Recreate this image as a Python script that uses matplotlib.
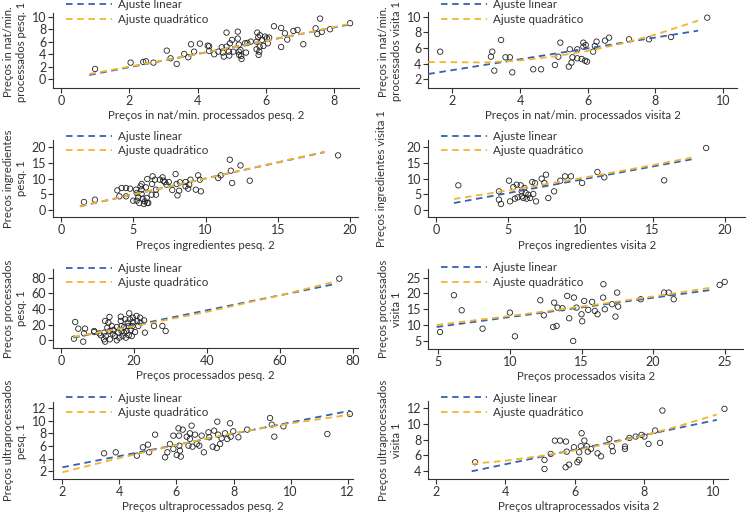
import matplotlib
matplotlib.use("Agg")
import matplotlib.pyplot as plt
import numpy as np

plt.rcParams['font.family'] = ['Lato', 'DejaVu Sans']

# --- data (x = second visit/survey, y = first) ---
p1_x = [1.0, 2.04, 2.41, 2.49, 2.71, 3.1, 3.21, 3.39, 3.61, 3.73, 3.81, 3.9, 4.07, 4.3, 4.34, 4.34,
        4.49, 4.61, 4.71, 4.74, 4.77, 4.85, 4.85, 4.92, 4.93, 4.95, 5.01, 5.05, 5.18, 5.18, 5.21,
        5.21, 5.22, 5.26, 5.28, 5.29, 5.39, 5.42, 5.46, 5.56, 5.73, 5.73, 5.75, 5.78, 5.79, 5.81,
        5.82, 5.83, 5.89, 5.93, 5.98, 6.03, 6.06, 6.1, 6.24, 6.45, 6.45, 6.56, 6.63, 6.81, 6.93,
        7.1, 7.46, 7.51, 7.59, 7.64, 7.88, 8.47]
p1_y = [1.65, 2.66, 2.77, 2.87, 2.66, 4.57, 3.35, 2.45, 4.04, 3.51, 5.59, 4.41, 5.69, 5.37, 5.27, 4.52,
        3.99, 4.41, 5.11, 4.26, 3.62, 7.45, 5.21, 4.41, 3.78, 5.74, 6.28, 4.41, 6.49, 7.6, 5.53,
        4.41, 3.88, 4.68, 3.72, 3.24, 5.74, 4.26, 5.8, 6.01, 4.79, 6.01, 7.45, 6.7, 3.88, 4.41,
        5.21, 7.02, 6.28, 5.32, 6.81, 6.54, 5.74, 6.65, 8.46, 8.19, 5.16, 7.34, 6.33, 7.71, 7.87,
        5.59, 8.14, 7.23, 9.68, 7.55, 7.98, 8.94]

p2_x = [1.64, 3.44, 3.18, 3.14, 3.24, 3.77, 3.57, 3.7, 4.39, 4.62, 5.03, 5.13, 5.19, 5.44, 5.47,
        5.52, 5.55, 5.69, 5.69, 5.82, 5.87, 5.87, 5.92, 5.98, 5.94, 6.16, 6.21, 6.26, 6.51, 6.63,
        7.22, 7.81, 8.46, 9.53]
p2_y = [5.53, 7.02, 5.53, 4.89, 3.11, 2.89, 4.81, 4.81, 3.28, 3.28, 3.83, 4.89, 6.68, 3.62, 5.83,
        4.13, 4.81, 5.83, 4.68, 4.6, 6.68, 6.17, 4.38, 4.26, 6.38, 5.53, 6.26, 6.81, 6.94, 7.32,
        7.11, 7.11, 7.4, 9.87]

p3_x = [1.59, 2.35, 3.9, 4.04, 4.2, 4.5, 4.5, 4.78, 5.0, 5.19, 5.24, 5.24, 5.35, 5.42, 5.51, 5.58,
        5.58, 5.58, 5.65, 5.74, 5.81, 5.88, 5.93, 5.97, 5.97, 6.04, 6.27, 6.3, 6.34, 6.5, 6.57,
        6.57, 6.84, 7.03, 7.08, 7.19, 7.3, 7.46, 7.7, 7.93, 8.0, 8.06, 8.18, 8.23, 8.62, 8.62,
        8.8, 8.87, 8.96, 9.33, 9.49, 9.61, 9.68, 10.88, 11.06, 11.68, 11.75, 11.84, 12.42, 13.06,
        19.17]
p3_y = [2.46, 3.21, 6.2, 4.28, 6.95, 6.95, 4.28, 6.74, 2.89, 6.42, 5.35, 2.89, 3.96, 2.14, 7.49, 8.24,
        6.42, 5.03, 3.53, 1.82, 2.67, 7.17, 3.74, 9.84, 2.14, 2.14, 4.81, 8.24, 10.7, 9.63, 6.42,
        4.81, 9.63, 10.37, 9.3, 8.88, 8.02, 8.88, 6.31, 11.44, 8.24, 4.6, 6.1, 8.77, 8.88, 7.49,
        6.74, 8.02, 9.63, 6.42, 11.02, 9.63, 5.88, 10.16, 11.02, 16.04, 12.51, 8.56, 14.2, 9.3,
        17.43]

p4_x = [1.55, 4.36, 4.36, 4.5, 5.06, 5.13, 5.36, 5.47, 5.59, 5.66, 5.87, 5.94, 5.94, 6.05, 6.12,
        6.21, 6.28, 6.4, 6.52, 6.74, 6.67, 6.86, 6.93, 7.32, 7.51, 7.62, 7.78, 8.18, 8.61, 8.94,
        9.35, 10.12, 11.18, 11.66, 15.8, 18.71]
p4_y = [7.81, 5.88, 3.21, 1.82, 9.3, 2.67, 7.27, 3.53, 8.02, 3.96, 7.81, 5.88, 4.28, 3.74, 6.95,
        5.35, 3.53, 4.81, 3.74, 5.03, 8.88, 8.56, 2.67, 9.95, 8.56, 11.23, 3.74, 5.88, 9.3, 10.7,
        10.7, 8.56, 12.09, 10.37, 9.41, 19.79]

p5_x = [3.56, 3.9, 4.75, 6.1, 6.3, 6.6, 9.1, 9.1, 10.5, 10.9, 11.8, 11.8, 12.1, 12.1, 12.3, 12.7,
        13.0, 13.3, 13.4, 13.4, 13.9, 14.2, 14.4, 14.8, 15.3, 15.3, 15.7, 16.0, 16.4, 16.4, 16.6,
        16.6, 16.9, 17.3, 17.3, 17.6, 17.8, 18.0, 18.3, 18.5, 18.6, 18.7, 18.9, 19.1, 19.4, 19.6,
        19.7, 19.8, 20.3, 20.7, 20.9, 21.2, 21.7, 21.8, 22.8, 23.0, 25.5, 27.8, 28.7, 76.3]
p5_y = [2.1, 23.4, 14.9, -1.7, 8.9, 14.9, 11.9, 10.6, 8.9, 6.4, 9.8, 1.3, -1.7, 24.7, 5.5, 16.2,
        22.6, 29.8, 11.9, 1.3, 18.3, 8.5, 13.2, 5.5, 17.0, 0.0, 9.8, 3.4, 24.7, 30.2, 18.3,
        11.9, 5.5, 17.0, 9.8, 26.8, 3.4, 11.9, 22.6, 18.3, 6.4, 34.5, 26.8, 13.2, 5.5, 18.3,
        28.9, 23.4, 10.6, 31.1, 24.7, 18.3, 28.9, 22.6, 25.5, 9.8, 18.3, 18.3, 11.9, 78.7]

p6_x = [5.12, 6.09, 6.63, 8.09, 10.0, 10.35, 12.12, 12.37, 13.02, 13.09, 13.26, 13.33, 13.67, 14.0,
        14.14, 14.42, 14.47, 14.65, 15.0, 15.05, 15.19, 15.47, 15.74, 15.93, 16.12, 16.51, 16.53,
        16.63, 17.14, 17.37, 17.49, 17.56, 19.14, 20.77, 21.09, 21.44, 24.65, 25.0]
p6_y = [7.84, 19.42, 14.68, 8.89, 13.95, 6.47, 17.84, 13.1, 9.42, 17.1, 9.74, 15.53, 15.32, 19.21,
        12.16, 5.0, 18.68, 15.53, 13.42, 11.21, 17.63, 14.79, 17.32, 14.47, 13.42, 18.68, 22.89,
        15.0, 16.58, 12.68, 20.26, 15.84, 18.16, 20.26, 20.26, 18.16, 22.68, 23.63]

p7_x = [3.46, 3.87, 4.61, 4.82, 5.0, 5.04, 5.25, 5.6, 5.68, 5.77, 5.89, 5.89, 6.01, 6.07, 6.09, 6.1,
        6.12, 6.15, 6.22, 6.36, 6.42, 6.47, 6.47, 6.53, 6.56, 6.65, 6.71, 6.8, 6.88, 6.96, 7.12,
        7.15, 7.27, 7.32, 7.41, 7.43, 7.46, 7.53, 7.58, 7.7, 7.78, 7.88, 7.9, 7.99, 8.17, 8.48,
        9.34, 9.28, 9.75, 9.43, 11.29, 12.08]
p7_y = [4.84, 5.0, 4.47, 5.79, 6.21, 5.0, 7.79, 4.21, 5.0, 6.32, 7.63, 5.53, 4.58, 8.79, 7.63, 6.05,
        5.26, 4.32, 8.58, 7.47, 6.05, 8.0, 7.11, 9.21, 5.89, 7.79, 6.32, 6.05, 7.63, 5.0, 8.16,
        7.37, 5.89, 8.42, 5.68, 9.84, 7.79, 6.32, 7.21, 8.0, 7.11, 9.58, 7.47, 8.32, 7.37, 8.58,
        9.37, 10.42, 9.1, 7.47, 7.89, 11.05]

p8_x = [3.13, 5.13, 5.13, 5.31, 5.43, 5.58, 5.75, 5.74, 5.77, 5.84, 5.98, 6.08, 6.13, 6.13, 6.18,
        6.2, 6.28, 6.35, 6.38, 6.47, 6.66, 6.76, 7.0, 7.07, 7.1, 7.45, 7.45, 7.58, 7.76, 7.93,
        8.01, 8.13, 8.32, 8.46, 8.53, 10.32]
p8_y = [5.14, 4.29, 5.43, 6.19, 7.87, 7.87, 7.75, 4.51, 6.48, 4.84, 7.03, 5.14, 5.43, 6.4, 7.16,
        8.8, 7.87, 7.16, 6.48, 6.82, 6.27, 5.89, 8.08, 7.16, 6.53, 6.82, 7.12, 8.21, 8.38, 8.59,
        8.38, 7.45, 9.14, 7.58, 11.66, 11.87]

# fitted lines: linear (end points) and quadratic (several points)
p1_lin_x, p1_lin_y = [0.83, 8.54], [0.69, 8.83]
p1_quad_x, p1_quad_y = [0.83, 3, 5, 7, 8.54], [0.85, 3.0, 5.05, 7.2, 8.94]
p2_lin_x, p2_lin_y = [1.29, 9.26], [2.68, 8.21]
p2_quad_x, p2_quad_y = [1.29, 3, 4, 5, 6, 7, 8, 9.26], [4.21, 4.15, 4.42, 4.91, 5.62, 6.55, 7.71, 9.49]
p3_lin_x, p3_lin_y = [1.31, 18.25], [1.07, 18.5]
p3_quad_x, p3_quad_y = [1.31, 10, 18.25], [1.1, 10.0, 18.6]
p4_lin_x, p4_lin_y = [1.25, 17.7], [2.14, 16.15]
p4_quad_x, p4_quad_y = [1.25, 4, 7, 10, 14, 17.7], [3.42, 5.42, 7.7, 10.09, 13.43, 16.7]
p5_lin_x, p5_lin_y = [3.4, 75.6], [3.4, 72.3]
p5_quad_x, p5_quad_y = [3.4, 20, 40, 60, 75.6], [4.5, 17.9, 36.3, 57.3, 75.5]
p6_lin_x, p6_lin_y = [4.88, 24.07], [9.42, 21.1]
p6_quad_x, p6_quad_y = [4.88, 10, 15, 20, 24.07], [10.05, 12.89, 15.83, 19.02, 21.84]
p7_lin_x, p7_lin_y = [2.0, 12.1], [2.63, 11.58]
p7_quad_x, p7_quad_y = [2.0, 4, 6, 8, 10, 12.1], [1.84, 4.10, 6.17, 8.03, 9.57, 10.95]
p8_lin_x, p8_lin_y = [3.03, 10.1], [4.0, 10.48]
p8_quad_x, p8_quad_y = [3.03, 4, 5, 6, 7, 8, 9, 10.1], [4.93, 5.34, 5.91, 6.63, 7.50, 8.53, 9.70, 11.16]

x_labels = ["Preços in nat/min. processados pesq. 2", "Preços in nat/min. processados visita 2",
            "Preços ingredientes pesq. 2", "Preços ingredientes visita 2",
            "Preços processados pesq. 2", "Preços processados visita 2",
            "Preços ultraprocessados pesq. 2", "Preços ultraprocessados visita 2"]
y_labels = ["Preços in nat/min.\nprocessados pesq. 1", "Preços in nat/min.\nprocessados visita 1",
            "Preços ingredientes\npesq. 1", "Preços ingredientes visita 1",
            "Preços processados\npesq. 1", "Preços processados\nvisita 1",
            "Preços ultraprocessados\npesq. 1", "Preços ultraprocessados\nvisita 1"]
x_ticks = [[0, 2, 4, 6, 8], [2, 4, 6, 8, 10], [0, 5, 10, 15, 20], [0, 5, 10, 15, 20],
           [0, 20, 40, 60, 80], [5, 10, 15, 20, 25], [2, 4, 6, 8, 10, 12], [2, 4, 6, 8, 10]]
y_ticks = [[0, 2, 4, 6, 8, 10], [2, 4, 6, 8, 10], [0, 5, 10, 15, 20], [0, 5, 10, 15, 20],
           [0, 20, 40, 60, 80], [5, 10, 15, 20, 25], [2, 4, 6, 8, 10, 12], [4, 6, 8, 10, 12]]

all_x = [p1_x, p2_x, p3_x, p4_x, p5_x, p6_x, p7_x, p8_x]
all_y = [p1_y, p2_y, p3_y, p4_y, p5_y, p6_y, p7_y, p8_y]
lin_fits = [(p1_lin_x, p1_lin_y), (p2_lin_x, p2_lin_y), (p3_lin_x, p3_lin_y), (p4_lin_x, p4_lin_y),
            (p5_lin_x, p5_lin_y), (p6_lin_x, p6_lin_y), (p7_lin_x, p7_lin_y), (p8_lin_x, p8_lin_y)]
quad_fits = [(p1_quad_x, p1_quad_y), (p2_quad_x, p2_quad_y), (p3_quad_x, p3_quad_y),
             (p4_quad_x, p4_quad_y), (p5_quad_x, p5_quad_y), (p6_quad_x, p6_quad_y),
             (p7_quad_x, p7_quad_y), (p8_quad_x, p8_quad_y)]

# layout in pixels: left, right, top, bottom (of the figure), plus axis limits
W, H = 750, 513
boxes = [(53.3, 359.3, 12.7, 87.7), (428.3, 736.7, 11.7, 87.7),
         (53.3, 358.3, 139.7, 217.3), (428.3, 745, 139.7, 217.3),
         (53.3, 358.3, 269.3, 347.7), (428.3, 743.3, 269.3, 348.7),
         (53.3, 353.3, 402.3, 479), (428.3, 728.3, 400.7, 479)]
xlims = [(-0.225, 8.74), (1.29, 10.4), (-0.53, 20.57), (-0.53, 21.4),
         (-2.1, 81.5), (4.3, 26.3), (1.68, 12.2), (1.78, 10.43)]
ylims = [(-1.34, 10.62), (0.93, 10.63), (-2.45, 22.46), (-2.45, 22.46),
         (-9.4, 90.6), (2.57, 27.6), (0.78, 12.9), (3.03, 12.9)]
legend_rows = [6, 6, 137.3, 137.3, 269.3, 268.7, 399, 399]

BLUE = "#3560b4"
GOLD = "#f1b52a"
INK = "#333333"
fs = 9

fig = plt.figure(figsize=(W / 100, H / 100), dpi=100)

for i in range(8):
    l, r, t, b = boxes[i]
    ax = fig.add_axes([l / W, 1 - b / H, (r - l) / W, (b - t) / H])
    ax.scatter(all_x[i], all_y[i], s=15, facecolors="none", edgecolors="#222222",
               linewidths=0.6, zorder=3)
    ax.plot(*lin_fits[i], color=BLUE, lw=1.3, dashes=(3.6, 2.6), label="Ajuste linear", zorder=4)
    ax.plot(*quad_fits[i], color=GOLD, lw=1.3, dashes=(3.6, 2.6), label="Ajuste quadrático", zorder=5)

    ax.set_xlim(xlims[i])
    ax.set_ylim(ylims[i])
    ax.set_xticks(x_ticks[i])
    ax.set_yticks(y_ticks[i])
    ax.spines["top"].set_visible(False)
    ax.spines["right"].set_visible(False)
    for s in ("left", "bottom"):
        ax.spines[s].set_color(INK)
        ax.spines[s].set_linewidth(0.8)
    ax.tick_params(length=3.5, width=0.8, color=INK, labelsize=fs, labelcolor=INK, pad=1.5)
    ax.set_xlabel(x_labels[i], fontsize=8.3, color=INK, labelpad=2.5)
    ax.set_ylabel(y_labels[i], fontsize=8.2, color=INK, linespacing=1.3,
                  va="center", ha="center")
    two_lines = "\n" in y_labels[i]
    label_px = 15 if two_lines else 6
    ax.yaxis.set_label_coords((label_px - (l % 375)) / (r - l), 0.48 if i < 2 else 0.5)

    anchor_y = 1 - (legend_rows[i] - 6.5) / H
    ax.legend(loc="upper left", bbox_to_anchor=((l + 13) / W, anchor_y),
              bbox_transform=fig.transFigure, frameon=False, fontsize=8.4,
              handlelength=3.9, handletextpad=0.55, labelspacing=0.3, borderpad=0,
              borderaxespad=0, labelcolor=INK)

fig.savefig("out.png", dpi=100)
